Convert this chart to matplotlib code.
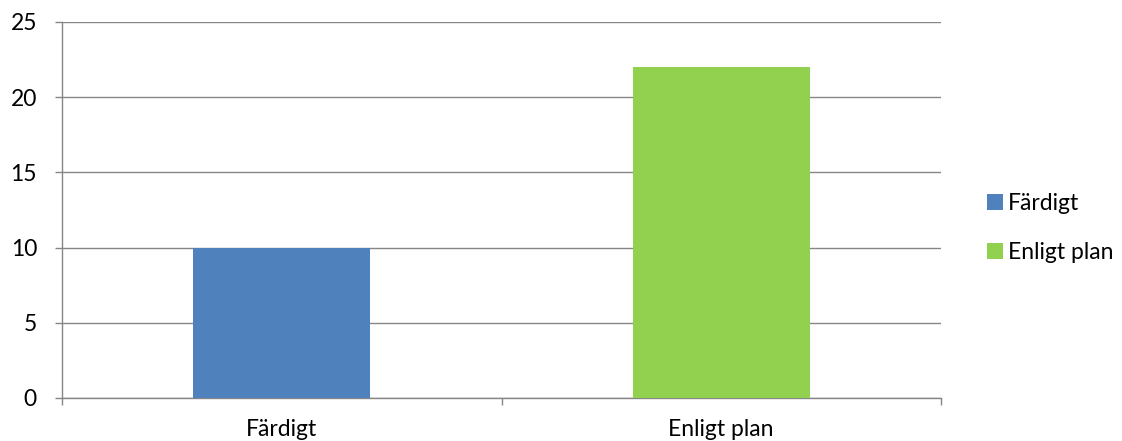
import matplotlib
matplotlib.use("Agg")
import matplotlib.pyplot as plt
from matplotlib.patches import Patch

categories = ["Färdigt", "Enligt plan"]
values = [10, 22]
colors = ["#4F81BD", "#92D050"]
yticks = [0, 5, 10, 15, 20, 25]

plt.rcParams['font.family'] = ['Lato', 'DejaVu Sans']
FS = 16.5

fig = plt.figure(figsize=(11.22, 4.41), dpi=100)
ax = fig.add_axes([62/1122, 1 - 398/441, (941-62)/1122, (398-22)/441])

x = list(range(len(categories)))
ax.bar(x, values, width=0.403, color=colors, zorder=3)
ax.set_xlim(-0.5, 1.5)
ax.set_ylim(0, 25)
ax.set_yticks(yticks)
ax.set_yticklabels([str(v) for v in yticks], fontsize=FS)
ax.set_xticks([-0.5, 0.5, 1.5], minor=False)
ax.set_xticklabels([])
ax.set_xticks(x, minor=True)
ax.set_xticklabels(categories, minor=True, fontsize=FS)
ax.tick_params(axis='x', which='minor', length=0, pad=15)
ax.tick_params(axis='x', which='major', length=5, color='#868686', width=1.0)
ax.tick_params(axis='y', length=5, color='#868686', pad=13, width=1.0)
ax.grid(axis='y', color='#868686', linewidth=1.0, zorder=0)
for s in ['top', 'right']:
    ax.spines[s].set_visible(False)
for s in ['left', 'bottom']:
    ax.spines[s].set_color('#868686')
    ax.spines[s].set_linewidth(1.0)

handles = [Patch(facecolor=c, label=l) for c, l in zip(colors, categories)]
fig.legend(handles=handles, loc='center left', bbox_to_anchor=(987/1122, 1 - 228/441),
           frameon=False, fontsize=FS, handlelength=0.68, handleheight=0.68,
           handletextpad=0.22, labelspacing=1.25, borderpad=0, borderaxespad=0)

fig.savefig("out.png", dpi=100)
